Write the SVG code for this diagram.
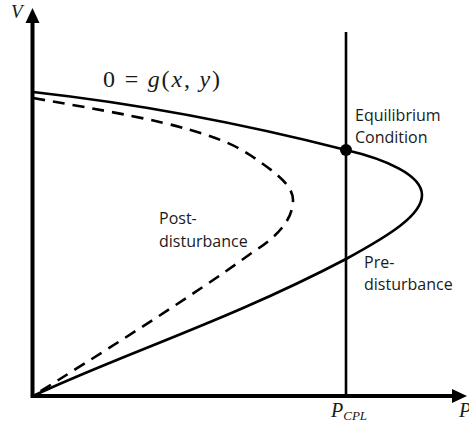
<svg xmlns="http://www.w3.org/2000/svg" width="469" height="427" viewBox="0 0 469 427">
<style>
.ax{stroke:#000;stroke-width:4;fill:none}
.crv{stroke:#000;stroke-width:2.6;fill:none}
.dash{stroke-dasharray:12 8}
.lbl{font-family:"Open Sans",sans-serif;font-size:16px;fill:#1a1a1a}
.math{font-family:"Liberation Serif",serif;fill:#1a1a1a}
.it{font-style:italic}
</style>
<rect width="469" height="427" fill="#fff"/>
<g id="axes">
<line class="ax" x1="32.5" y1="398" x2="32.5" y2="20"/>
<polygon points="32.5,8 25.5,23 39.5,23" fill="#000"/>
<line class="ax" x1="31" y1="396" x2="455" y2="396"/>
<polygon points="467,396 452,389 452,403" fill="#000"/>
<text class="math it" x="11" y="18" font-size="19">V</text>
<text class="math it" x="459" y="417" font-size="20">P</text>
</g>
<g id="connectors">
<line class="crv" x1="346" y1="32" x2="346" y2="396"/>
<path id="pre" class="crv" d="M33,92 C150,105 260,128 346,150 C385,159 422,175 422,195 C422,215 390,235 346,259 C230,320 120,355 33,396"/>
<path id="post" class="crv dash" d="M33,98 C130,115 210,128 250,155 C275,172 293,185 293,200 C293,218 280,235 253,252 C190,298 90,360 33,396"/>
</g>
<g id="equilibrium">
<circle cx="346" cy="150" r="6" fill="#000"/>
<text class="lbl" x="355" y="121">Equilibrium</text>
<text class="lbl" x="355" y="143">Condition</text>
</g>
<g id="post-label">
<text class="lbl" x="159" y="224">Post-</text>
<text class="lbl" x="159" y="247">disturbance</text>
</g>
<g id="pre-label">
<text class="lbl" x="364" y="268">Pre-</text>
<text class="lbl" x="364" y="290">disturbance</text>
</g>
<g id="equation">
<text class="math" x="103" y="87" font-size="24" textLength="117" lengthAdjust="spacing">0 = <tspan class="it">g</tspan>(<tspan class="it">x</tspan>, <tspan class="it">y</tspan>)</text>
</g>
<g id="pcpl">
<text class="math it" x="331" y="417" font-size="20">P<tspan font-size="13" dy="3">CPL</tspan></text>
</g>
</svg>
